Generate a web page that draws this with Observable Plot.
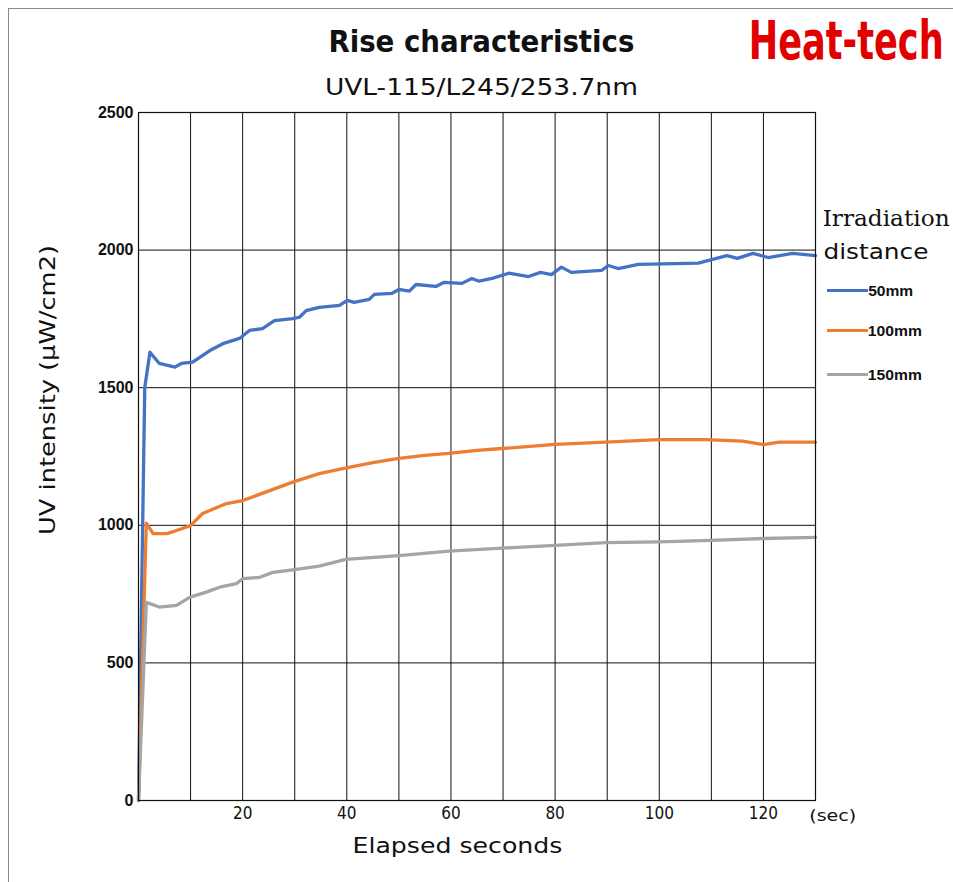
<!DOCTYPE html>
<html><head><meta charset="utf-8">
<script src="https://cdn.jsdelivr.net/npm/d3@7"></script>
<script src="https://cdn.jsdelivr.net/npm/@observablehq/plot@0.6"></script>
<style>
body{margin:0;background:#fff;}
#wrap{position:relative;width:953px;height:882px;overflow:hidden;font-family:"Liberation Sans",Arial,sans-serif;}
#border{position:absolute;left:8px;top:8px;width:960px;height:900px;border:1px solid #888;box-sizing:border-box;}
.t{position:absolute;white-space:nowrap;color:#111;line-height:1;}
</style></head>
<body>
<div id="wrap">
<div id="border"></div>
<div id="chart" style="position:absolute;left:0;top:0"></div>
<div id="texts"></div>
<div id="legend"></div>
</div>
<script>
const series = ["50mm","100mm","150mm"];
const colors = ["#4472C4","#ED7D31","#A5A5A5"];
const t50 = [0,1.2,2.2,4,7,8.2,10.4,13.7,16.2,19.4,21.3,23.8,26.1,29.6,30.9,32.2,34.7,38.6,40.1,41.4,44.3,45.3,48.7,50,52,53.3,57.1,58.7,62.1,64,65.4,67.9,71.1,74.9,77.2,79.3,81.2,83.1,88.9,90.2,92.1,96,107.5,113,115,118,120.9,125.6,130];
const v50 = [0,1500,1629,1588,1575,1588,1593,1635,1660,1679,1708,1715,1744,1751,1756,1780,1792,1799,1817,1810,1821,1839,1843,1857,1851,1875,1868,1883,1879,1897,1887,1897,1916,1904,1919,1911,1938,1919,1926,1944,1933,1948,1953,1980,1970,1988,1973,1988,1980];
const t100 = [0,1.5,2.8,5.5,7.3,10,12.3,16.9,20,25.2,29.6,34.7,39.2,45,50,55,59.6,65,69.8,80,89.7,100,109,116,120,123,130];
const v100 = [0,1008,970,970,981,999,1043,1079,1090,1126,1157,1188,1206,1228,1243,1254,1261,1272,1279,1294,1302,1311,1311,1306,1293,1302,1302];
const t150 = [0,1.5,4,7.3,9.9,13,15.6,18.8,20,23.3,25.8,29.6,34.7,39.8,50,59.6,69.8,80,89.7,100,110,120,130];
const v150 = [0,720,703,709,739,757,775,788,806,811,829,838,852,876,890,906,917,927,937,940,945,952,956];
const xTicks = [20,40,60,80,100,120];
const yTicks = [0,500,1000,1500,2000,2500];
const xGrid = [10,20,30,40,50,60,70,80,90,100,110,120];

const data = [];
[[t50,v50],[t100,v100],[t150,v150]].forEach(([ts,vs],i)=>{
  ts.forEach((t,j)=>data.push({s:series[i],t,v:vs[j]}));
});

const plot = Plot.plot({
  width:953, height:882,
  marginLeft:138, marginRight:138, marginTop:112, marginBottom:82,
  x:{domain:[0,130]},
  y:{domain:[0,2500]},
  color:{domain:series, range:colors},
  style:{background:"transparent"},
  marks:[
    Plot.ruleX(xGrid,{stroke:"#111",strokeWidth:1}),
    Plot.ruleY(yTicks.slice(1,-1),{stroke:"#111",strokeWidth:1}),
    Plot.line(data,{x:"t",y:"v",z:"s",stroke:"s",strokeWidth:3.3,curve:"linear"}),
    Plot.frame({stroke:"#111",strokeWidth:1.2}),
    Plot.axisY({ticks:yTicks,tickSize:0,tickPadding:5,label:null,tickFormat:d=>String(d),fontSize:16,fontWeight:"bold",fontFamily:"Liberation Sans, Arial, sans-serif",fill:"#111"}),
    Plot.axisX({ticks:xTicks,tickSize:0,tickPadding:6,label:null,tickFormat:d=>String(d),fontSize:17,fontFamily:"DejaVu Sans Condensed, sans-serif",fill:"#111"})
  ]
});
document.getElementById("chart").appendChild(plot);

function addText(parent, txt, cx, cy, font, targetW, opts={}) {
  const d = document.createElement("div");
  d.className = "t";
  d.textContent = txt;
  d.style.font = font;
  if (opts.color) d.style.color = opts.color;
  parent.appendChild(d);
  const w = d.getBoundingClientRect().width, h = d.getBoundingClientRect().height;
  const sx = targetW ? targetW / w : 1;
  d.style.left = (cx - w/2) + "px";
  d.style.top = (cy - h/2) + "px";
  d.style.transform = (opts.rotate ? `rotate(${opts.rotate}deg) ` : "") + `scaleX(${sx})`;
  return d;
}
const T = document.getElementById("texts");
addText(T, "Rise characteristics", 481, 41, "bold 31px 'Liberation Sans Narrow','DejaVu Sans Condensed',sans-serif", 306);
addText(T, "UVL-115/L245/253.7nm", 481, 87, "23px 'DejaVu Sans Condensed',sans-serif", 313);
addText(T, "Heat-tech", 846, 40, "bold 53px 'Liberation Sans Narrow','DejaVu Sans Condensed',sans-serif", 195, {color:"#e00000"});
addText(T, "UV intensity (μW/cm2)", 48, 390, "21px 'DejaVu Sans Condensed',sans-serif", 290, {rotate:-90});
addText(T, "Elapsed seconds", 457, 845, "22px 'DejaVu Sans Condensed',sans-serif", 210);
addText(T, "(sec)", 833, 815, "16px 'DejaVu Sans Condensed',sans-serif", 47);

const lg = document.getElementById("legend");
addText(lg, "Irradiation", 823+63.5, 218, "22px 'DejaVu Serif Condensed','DejaVu Serif',serif", 127);
addText(lg, "distance", 823+52.5, 251, "22px 'DejaVu Sans Condensed',sans-serif", 105);
const ly = [290,330,374];
const lw = [45,54,54];
series.forEach((s,i)=>{
  const bar = document.createElement("div");
  bar.style.cssText = `position:absolute;left:827px;top:${ly[i]-1.5}px;width:41px;height:3px;background:${colors[i]}`;
  lg.appendChild(bar);
  addText(lg, s, 868 + lw[i]/2, ly[i], "bold 15px 'Liberation Sans',Arial,sans-serif", lw[i]);
});
</script>
</body></html>
